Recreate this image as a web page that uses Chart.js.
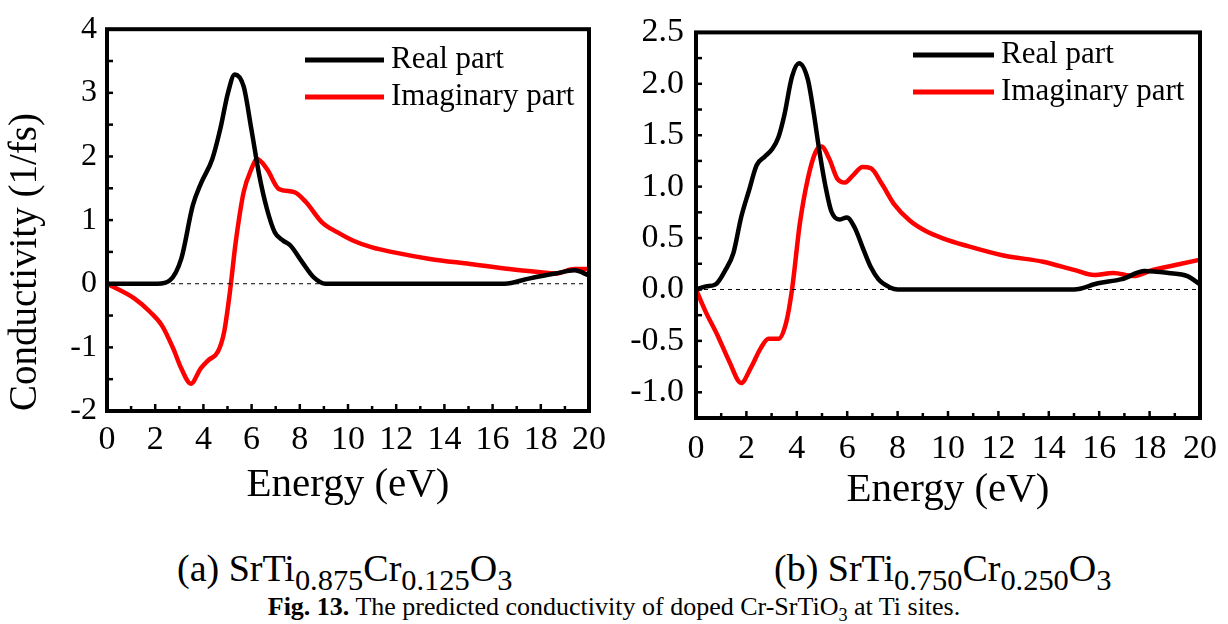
<!DOCTYPE html>
<html>
<head>
<meta charset="utf-8">
<script src="https://cdn.jsdelivr.net/npm/chart.js@4.4.1/dist/chart.umd.min.js"></script>
<style>
  body { margin: 0; background: #fff; width: 1228px; height: 624px; overflow: hidden; position: relative; font-family: "Liberation Serif", serif; }
  canvas { position: absolute; top: 0; }
  #chartA { left: 0; }
  #chartB { left: 615px; }
  .caption { position: absolute; top: 546px; font-size: 38px; white-space: nowrap; color: #000; }
  .caption sub { font-size: 0.8em; vertical-align: -0.3em; line-height: 0; }
  #capA { left: 177px; }
  #capB { left: 774px; }
  #fig { position: absolute; top: 592px; left: 0; width: 1228px; text-align: center; font-size: 26px; white-space: nowrap; }
  #fig sub { font-size: 0.7em; line-height: 0; }
</style>
</head>
<body>
<canvas id="chartA" width="615" height="520"></canvas>
<canvas id="chartB" width="613" height="520"></canvas>
<div class="caption" id="capA">(a) SrTi<sub>0.875</sub>Cr<sub>0.125</sub>O<sub>3</sub></div>
<div class="caption" id="capB">(b) SrTi<sub>0.750</sub>Cr<sub>0.250</sub>O<sub>3</sub></div>
<div id="fig"><b>Fig. 13.</b> The predicted conductivity of doped Cr-SrTiO<sub>3</sub> at Ti sites.</div>
<script>
const seriesNames = ['Real part', 'Imaginary part'];
const xTicks = [0, 2, 4, 6, 8, 10, 12, 14, 16, 18, 20];
const yTicksA = [-2, -1, 0, 1, 2, 3, 4];
const yTicksB = [-1.0, -0.5, 0.0, 0.5, 1.0, 1.5, 2.0, 2.5];

// (a) SrTi0.875Cr0.125O3
const energyRealA = [0, 2.1, 2.6, 3.08, 3.56, 3.89, 4.37, 4.7, 5.02, 5.3, 5.67, 5.99, 6.32, 6.64, 6.96, 7.3, 7.61, 8.1, 8.58, 9.07, 16.5, 17.5, 18.6, 19.4, 20];
const realA = [0, 0, 0.05, 0.39, 1.23, 1.57, 1.96, 2.43, 3.0, 3.29, 3.1, 2.43, 1.7, 1.17, 0.81, 0.68, 0.6, 0.34, 0.1, 0, 0, 0.08, 0.16, 0.21, 0.13];
const energyImagA = [0, 1.13, 1.78, 2.27, 2.75, 3.08, 3.48, 3.89, 4.21, 4.6, 4.86, 5.1, 5.34, 5.67, 5.99, 6.23, 6.64, 7.13, 7.77, 8.26, 8.91, 9.55, 10.2, 11.0, 11.8, 13.4, 15.06, 16.7, 18.0, 18.6, 19.4, 20];
const imagA = [0, -0.23, -0.44, -0.65, -1.02, -1.33, -1.57, -1.33, -1.2, -1.07, -0.76, -0.13, 0.65, 1.44, 1.8, 1.96, 1.8, 1.49, 1.44, 1.28, 0.97, 0.81, 0.68, 0.57, 0.5, 0.39, 0.31, 0.23, 0.18, 0.16, 0.23, 0.23];

// (b) SrTi0.750Cr0.250O3
const energyRealB = [0, 0.39, 0.78, 1.17, 1.48, 1.79, 2.1, 2.41, 2.72, 3.04, 3.27, 3.5, 3.81, 4.09, 4.44, 4.67, 4.9, 5.14, 5.37, 5.68, 5.99, 6.3, 6.61, 6.93, 7.24, 7.7, 8.0, 15.0, 15.95, 16.9, 17.8, 18.75, 19.5, 20];
const realB = [0, 0.03, 0.05, 0.19, 0.35, 0.7, 0.96, 1.21, 1.29, 1.37, 1.48, 1.69, 2.07, 2.2, 2.04, 1.72, 1.34, 1.0, 0.76, 0.68, 0.7, 0.6, 0.41, 0.22, 0.1, 0.02, 0, 0, 0.06, 0.1, 0.18, 0.16, 0.13, 0.05];
const energyImagB = [0, 0.39, 0.86, 1.32, 1.79, 2.18, 2.57, 2.88, 3.27, 3.58, 3.81, 4.12, 4.44, 4.75, 4.98, 5.29, 5.6, 5.91, 6.23, 6.61, 6.93, 7.39, 7.86, 8.48, 9.1, 9.88, 10.66, 12.2, 13.77, 15.0, 15.8, 16.57, 17.35, 18.13, 19.07, 20];
const imagB = [0, -0.22, -0.45, -0.7, -0.91, -0.76, -0.57, -0.48, -0.48, -0.32, 0, 0.64, 1.08, 1.34, 1.39, 1.27, 1.08, 1.04, 1.11, 1.19, 1.18, 1.02, 0.83, 0.67, 0.57, 0.49, 0.43, 0.33, 0.27, 0.19, 0.14, 0.16, 0.13, 0.19, 0.24, 0.29];

const FONT = '"Liberation Serif", "Times New Roman", serif';

const toPoints = (xs, ys) => xs.map((x, i) => ({ x, y: ys[i] }));

// frame + inward ticks, drawn from the chart's own scales
const framePlugin = {
  id: 'frame',
  afterDraw(chart, args, opts) {
    const { ctx, chartArea: a, scales: { x, y } } = chart;
    ctx.save();
    ctx.strokeStyle = '#000';
    ctx.lineWidth = 2.5;
    for (let v = x.min; v <= x.max + 1e-9; v += opts.xMinor) {
      const px = x.getPixelForValue(v);
      const len = Math.abs(v % 2) < 1e-9 ? 7 : 5;
      ctx.beginPath();
      ctx.moveTo(px, a.bottom);
      ctx.lineTo(px, a.bottom - len);
      ctx.stroke();
    }
    for (let v = opts.yStart; v <= y.max + 1e-9; v += opts.yMinor) {
      const py = y.getPixelForValue(v);
      ctx.beginPath();
      ctx.moveTo(a.left, py);
      ctx.lineTo(a.left + 6, py);
      ctx.stroke();
    }
    ctx.lineWidth = 4;
    ctx.lineJoin = 'miter';
    ctx.strokeRect(a.left, a.top, a.right - a.left, a.bottom - a.top);
    ctx.restore();
  }
};

const legendPlugin = {
  id: 'lineLegend',
  afterDraw(chart, args, opts) {
    const ctx = chart.ctx;
    ctx.save();
    ctx.font = `31px ${FONT}`;
    ctx.textBaseline = 'middle';
    chart.data.datasets.filter(d => seriesNames.includes(d.label)).forEach((d, i) => {
      const y = opts.y + i * opts.rowGap;
      ctx.strokeStyle = d.borderColor;
      ctx.lineWidth = 5;
      ctx.beginPath();
      ctx.moveTo(opts.x, y);
      ctx.lineTo(opts.x + opts.lineLen, y);
      ctx.stroke();
      ctx.fillStyle = '#000';
      ctx.fillText(d.label, opts.x + opts.lineLen + 7, y);
    });
    ctx.restore();
  }
};

function makeChart(id, cfg) {
  const datasets = [
    {
      label: 'zero',
      data: [{ x: 0, y: 0 }, { x: 20, y: 0 }],
      borderColor: '#000',
      borderWidth: 1,
      borderDash: [4, 4],
      pointRadius: 0
    },
    {
      label: seriesNames[0],
      data: toPoints(cfg.realX, cfg.realY),
      borderColor: '#000',
      borderWidth: 4.5,
      pointRadius: 0,
      cubicInterpolationMode: 'monotone'
    },
    {
      label: seriesNames[1],
      data: toPoints(cfg.imagX, cfg.imagY),
      borderColor: '#ff0000',
      borderWidth: 4.5,
      pointRadius: 0,
      cubicInterpolationMode: 'monotone'
    }
  ];

  return new Chart(document.getElementById(id), {
    type: 'line',
    data: { datasets },
    options: {
      responsive: false,
      animation: false,
      events: [],
      layout: { padding: cfg.padding, autoPadding: false },
      plugins: {
        legend: { display: false },
        tooltip: { enabled: false },
        frame: cfg.frame,
        lineLegend: cfg.legend
      },
      scales: {
        x: {
          type: 'linear',
          min: 0,
          max: 20,
          afterBuildTicks: (s) => { s.ticks = xTicks.map(v => ({ value: v })); },
          afterFit: (s) => { s.height = cfg.xHeight; },
          grid: { display: false, drawTicks: false },
          border: { display: false },
          ticks: { color: '#000', padding: cfg.xPad, maxRotation: 0, autoSkip: false, font: { family: FONT, size: 34 } },
          title: {
            display: true,
            text: 'Energy (eV)',
            color: '#000',
            font: { family: FONT, size: 41 },
            padding: { top: 0, bottom: cfg.xTitlePad }
          }
        },
        y: {
          min: cfg.yMin,
          max: cfg.yMax,
          afterBuildTicks: (s) => { s.ticks = cfg.yTicks.map(v => ({ value: v })); },
          afterFit: (s) => { s.width = cfg.yWidth; },
          grid: { display: false, drawTicks: false },
          border: { display: false },
          ticks: {
            color: '#000',
            padding: cfg.yPad,
            font: { family: FONT, size: cfg.yFont },
            callback: cfg.yFormat
          },
          title: {
            display: cfg.yTitle !== '',
            text: cfg.yTitle,
            align: 'start',
            color: '#000',
            font: { family: FONT, size: 39 },
            padding: { top: 2, bottom: 0 }
          }
        }
      }
    },
    plugins: [framePlugin, legendPlugin]
  });
}

makeChart('chartA', {
  realX: energyRealA, realY: realA, imagX: energyImagA, imagY: imagA,
  yMin: -2, yMax: 4, yTicks: yTicksA, yFont: 32, yPad: 10,
  yFormat: (v) => String(v),
  yTitle: 'Conductivity (1/fs)',
  padding: { top: 24, right: 21, left: 0, bottom: 0 },
  yWidth: 107, xHeight: 109, xPad: 9, xTitlePad: 10,
  frame: { xMinor: 1, yMinor: 0.5, yStart: -2 },
  legend: { x: 305, y: 60, rowGap: 37, lineLen: 79 }
});

makeChart('chartB', {
  realX: energyRealB, realY: realB, imagX: energyImagB, imagY: imagB,
  yMin: -1.25, yMax: 2.5, yTicks: yTicksB, yFont: 34, yPad: 12,
  yFormat: (v) => v.toFixed(1),
  yTitle: '',
  padding: { top: 26, right: 26, left: 0, bottom: 0 },
  yWidth: 81, xHeight: 102, xPad: 11, xTitlePad: 5,
  frame: { xMinor: 1, yMinor: 0.25, yStart: -1.25 },
  legend: { x: 298, y: 55, rowGap: 37, lineLen: 81 }
});
</script>
</body>
</html>
